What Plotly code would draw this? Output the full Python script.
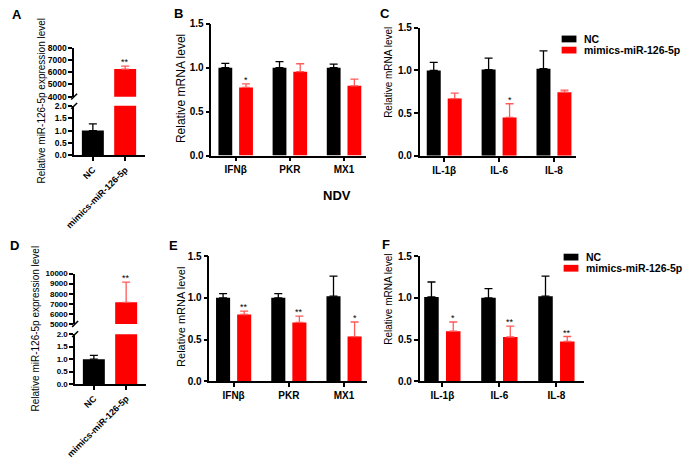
import plotly.graph_objects as go

W, H = 685, 459
FONT = "Liberation Sans, Arial, sans-serif"

# ---------------- data ----------------
groups_AD = ["NC", "mimics-miR-126-5p"]
A_vals = [1.0, 6250]
A_err = [0.27, 250]
A_sig = ["", "**"]
D_vals = [1.0, 7150]
D_err = [0.15, 2000]
D_sig = ["", "**"]

genes_BE = ["IFNβ", "PKR", "MX1"]
genes_CF = ["IL-1β", "IL-6", "IL-8"]

B_nc = [1.0, 1.0, 1.0]
B_nc_err = [0.05, 0.07, 0.04]
B_mim = [0.776, 0.955, 0.794]
B_mim_err = [0.04, 0.09, 0.076]
B_sig = ["*", "", ""]

C_nc = [1.0, 1.01, 1.02]
C_nc_err = [0.094, 0.134, 0.21]
C_mim = [0.67, 0.45, 0.746]
C_mim_err = [0.065, 0.16, 0.024]
C_sig = ["", "*", ""]

E_nc = [1.0, 1.0, 1.02]
E_nc_err = [0.05, 0.05, 0.24]
E_mim = [0.80, 0.705, 0.535]
E_mim_err = [0.04, 0.075, 0.175]
E_sig = ["**", "**", "*"]

F_nc = [1.01, 1.0, 1.02]
F_nc_err = [0.18, 0.11, 0.24]
F_mim = [0.60, 0.53, 0.476]
F_mim_err = [0.11, 0.13, 0.06]
F_sig = ["*", "**", "**"]

series_names = ["NC", "mimics-miR-126-5p"]
BLACK = "#000000"
RED = "#ff0000"
RED_ERR = "#ff5a5a"

BARGAP = 0.236
BARGROUPGAP = 0.333


def px(x):
    return x / W


def py(y):
    return 1 - y / H


fig = go.Figure()

# ---------------- panels A & D (broken axes) ----------------
def broken_panel(vals, errs, xl, xu, yl, yu):
    w = 0.68
    for i, (col, ecol) in enumerate(zip([BLACK, RED], [BLACK, RED_ERR])):
        for xa, ya in ((xl, yl), (xu, yu)):
            fig.add_trace(go.Bar(
                x=[groups_AD[i]], y=[vals[i]], width=[w], offset=[-w / 2],
                marker=dict(color=col, line=dict(width=0)),
                error_y=dict(type="data", symmetric=False, array=[errs[i]], arrayminus=[0],
                             color=ecol, thickness=1.3, width=4),
                xaxis=xa, yaxis=ya, showlegend=False, hoverinfo="skip"))


broken_panel(A_vals, A_err, "x", "x2", "y", "y2")
broken_panel(D_vals, D_err, "x5", "x6", "y5", "y6")

# ---------------- grouped panels ----------------
def grouped_panel(genes, nc, nce, mim, mime, xa, ya):
    fig.add_trace(go.Bar(
        x=genes, y=nc, name=series_names[0], marker=dict(color=BLACK, line=dict(width=0)),
        error_y=dict(type="data", symmetric=False, array=nce, arrayminus=[0] * len(nc),
                     color=BLACK, thickness=1.3, width=4),
        xaxis=xa, yaxis=ya, showlegend=False, hoverinfo="skip"))
    fig.add_trace(go.Bar(
        x=genes, y=mim, name=series_names[1], marker=dict(color=RED, line=dict(width=0)),
        error_y=dict(type="data", symmetric=False, array=mime, arrayminus=[0] * len(mim),
                     color=RED_ERR, thickness=1.3, width=4),
        xaxis=xa, yaxis=ya, showlegend=False, hoverinfo="skip"))


grouped_panel(genes_BE, B_nc, B_nc_err, B_mim, B_mim_err, "x3", "y3")
grouped_panel(genes_CF, C_nc, C_nc_err, C_mim, C_mim_err, "x4", "y4")
grouped_panel(genes_BE, E_nc, E_nc_err, E_mim, E_mim_err, "x7", "y7")
grouped_panel(genes_CF, F_nc, F_nc_err, F_mim, F_mim_err, "x8", "y8")

# ---------------- axes ----------------
def xax(x0, x1, anchor, rng, size=10, angle=0, visible=True):
    return dict(domain=[px(x0), px(x1)], anchor=anchor, type="category", range=rng,
                showline=True, linecolor="black", linewidth=1.5, ticks="outside",
                ticklen=4, tickwidth=1.5, tickcolor="black", showgrid=False, zeroline=False,
                tickangle=angle, visible=visible, fixedrange=True,
                tickfont=dict(family=FONT, size=size, color="black", weight="bold"))


def yax(y0, y1, anchor, rng, dtick, fmt, size=10):
    return dict(domain=[py(y0), py(y1)], anchor=anchor, range=rng, dtick=dtick, tick0=rng[0],
                tickformat=fmt, showline=True, linecolor="black", linewidth=1.5,
                ticks="outside", ticklen=4, tickwidth=1.5, tickcolor="black",
                showgrid=False, zeroline=False, fixedrange=True,
                tickfont=dict(family=FONT, size=size, color="black", weight="bold"))


rngAD = [-0.58, 1.62]
rng3 = [-0.45, 2.41]
fig.update_layout(
    xaxis=xax(66, 138, "y", rngAD, size=9, angle=-45),
    yaxis=yax(154, 103, "x", [0, 2], 0.5, ".1f", size=8.5),
    xaxis2=xax(66, 138, "y2", rngAD, visible=False),
    yaxis2=yax(93.5, 43, "x2", [4000, 8000], 1000, "d", size=8.5),
    xaxis3=xax(205, 362, "y3", rng3),
    yaxis3=yax(154.3, 18.3, "x3", [0, 1.5], 0.5, ".1f"),
    xaxis4=xax(416, 575, "y4", rng3),
    yaxis4=yax(154.5, 22.5, "x4", [0, 1.5], 0.5, ".1f"),
    xaxis5=xax(67, 139, "y5", rngAD, size=9, angle=-45),
    yaxis5=yax(390, 338.5, "x5", [0, 2], 0.5, ".1f", size=8),
    xaxis6=xax(67, 139, "y6", rngAD, visible=False),
    yaxis6=yax(328, 276, "x6", [5000, 10000], 1000, "d", size=8),
    xaxis7=xax(203, 363, "y7", [-0.44, 2.42]),
    yaxis7=yax(387, 258, "x7", [0, 1.5], 0.5, ".1f"),
    xaxis8=xax(416, 583, "y8", [-0.40, 2.49]),
    yaxis8=yax(387, 258, "x8", [0, 1.5], 0.5, ".1f"),
)

# ---------------- annotations ----------------
ann = []


def text(x, y, s, size, bold=False, angle=0, xanchor="center", yanchor="middle"):
    ann.append(dict(x=px(x), y=py(y), xref="paper", yref="paper", text=s, showarrow=False,
                    textangle=angle, xanchor=xanchor, yanchor=yanchor,
                    font=dict(family=FONT, size=size, color="black",
                              weight="bold" if bold else "normal")))


for letter, x, y in (("A", 8, 9), ("B", 172, 8), ("C", 381, 8),
                     ("D", 6, 247), ("E", 167, 247), ("F", 382, 246)):
    text(x, y, letter, 13, bold=True)

text(332, 195, "NDV", 13, bold=True)

text(32, 98, "Relative miR-126-5p expression level", 10, angle=-90)
text(27, 333, "Relative miR-126-5p expression level", 10, angle=-90)
text(175, 85, "Relative mRNA level", 12, angle=-90)
text(385, 68, "Relative mRNA level", 10, angle=-90)
text(175, 321, "Relative mRNA level", 11, angle=-90)
text(385, 302, "Relative mRNA level", 10, angle=-90)

# significance stars
red_off = (1 - BARGAP) / 4
for sig, vals, errs, xa, ya in ((B_sig, B_mim, B_mim_err, "x3", "y3"),
                                (C_sig, C_mim, C_mim_err, "x4", "y4"),
                                (E_sig, E_mim, E_mim_err, "x7", "y7"),
                                (F_sig, F_mim, F_mim_err, "x8", "y8")):
    for i, s in enumerate(sig):
        if s:
            ann.append(dict(x=i + red_off, y=vals[i] + errs[i], xref=xa, yref=ya, text=s,
                            showarrow=False, yanchor="bottom", yshift=-3,
                            font=dict(family=FONT, size=9, color="black")))
for sig, vals, errs, xa, ya in ((A_sig, A_vals, A_err, "x2", "y2"),
                                (D_sig, D_vals, D_err, "x6", "y6")):
    for i, s in enumerate(sig):
        if s:
            ann.append(dict(x=i, y=vals[i] + errs[i], xref=xa, yref=ya, text=s,
                            showarrow=False, yanchor="bottom", yshift=-3,
                            font=dict(family=FONT, size=9, color="black")))

# axis break marks
shapes = []
for xx, yy in ((66, 93.5), (66, 103), (67, 328), (67, 338.5)):
    shapes.append(dict(type="line", xref="paper", yref="paper",
                       x0=px(xx - 3), y0=py(yy + 3), x1=px(xx + 3), y1=py(yy - 3),
                       line=dict(color="black", width=1.5)))

# legends for panels C and F (key boxes + labels)
for lx, ly0 in ((560, 34), (562, 259)):
    for k, (name, col) in enumerate(zip(series_names, [BLACK, RED])):
        yc = ly0 + k * 11.5
        shapes.append(dict(type="rect", xref="paper", yref="paper",
                           x0=px(lx), x1=px(lx + 15), y0=py(yc + 3.5), y1=py(yc - 3.5),
                           fillcolor=col, line=dict(width=0)))
        text(lx + 21, yc, name, 10.5, bold=True, xanchor="left")

fig.update_layout(
    width=W, height=H, margin=dict(l=0, r=0, t=0, b=0),
    paper_bgcolor="white", plot_bgcolor="rgba(0,0,0,0)",
    barmode="group", bargap=BARGAP, bargroupgap=BARGROUPGAP,
    annotations=ann, shapes=shapes, showlegend=False,
)

fig.write_html("out.html", config={"displayModeBar": False},
               post_script="document.body.style.margin='0px';")
